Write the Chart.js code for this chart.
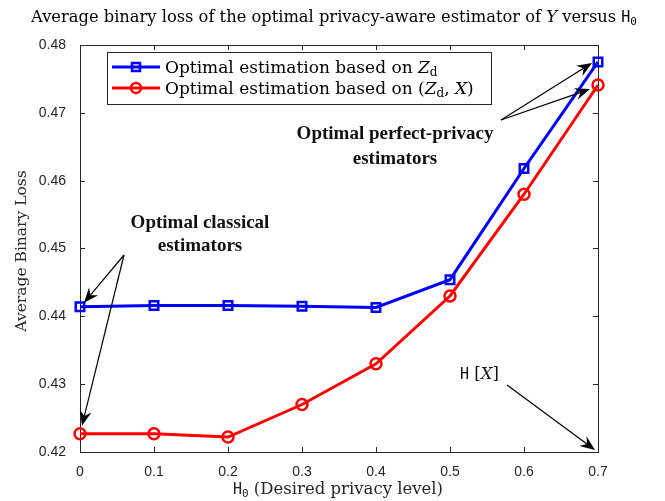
<!DOCTYPE html>
<html>
<head>
<meta charset="utf-8">
<script src="https://cdn.jsdelivr.net/npm/chart.js@4.4.0/dist/chart.umd.min.js"></script>
<style>
  html, body { margin: 0; padding: 0; background: #fff; }
  #wrap { width: 665px; height: 501px; position: relative; }
</style>
</head>
<body>
<div id="wrap"><canvas id="lossChart" width="665" height="501"></canvas></div>
<script>
// datos
const privacyLevels = [0, 0.1, 0.2, 0.3, 0.4, 0.5, 0.6, 0.7];
const lossZd = [0.4414, 0.4416, 0.4416, 0.4415, 0.4413, 0.4454, 0.4618, 0.4775];
const lossZdX = [0.4227, 0.4227, 0.4222, 0.4270, 0.4330, 0.4430, 0.4580, 0.4741];
const xTicks = [0, 0.1, 0.2, 0.3, 0.4, 0.5, 0.6, 0.7];
const yTicks = [0.42, 0.43, 0.44, 0.45, 0.46, 0.47, 0.48];

const SERIF = '"DejaVu Serif", "Liberation Serif", serif';
const BOLDSERIF = '"Liberation Serif", "Times New Roman", serif';
const MONO = '"DejaVu Sans Mono", "Liberation Mono", monospace';
const SANS = '"Liberation Sans", Arial, sans-serif';
const AXIS_COLOR = '#262626';

// dibuja un texto compuesto de trozos con fuentes distintas
function drawRuns(ctx, runs, x, y, align) {
    let total = 0;
    runs.forEach(r => { ctx.font = r.font; total += ctx.measureText(r.text).width; });
    let cx = align === 'center' ? x - total / 2 : x;
    ctx.textBaseline = 'alphabetic';
    ctx.textAlign = 'left';
    runs.forEach(r => {
        ctx.font = r.font;
        ctx.fillText(r.text, cx, y + (r.dy || 0));
        cx += ctx.measureText(r.text).width;
    });
}

function arrow(ctx, x0, y0, x1, y1) {
    const ang = Math.atan2(y1 - y0, x1 - x0);
    const len = 15, wid = 6;
    const bx = x1 - len * Math.cos(ang), by = y1 - len * Math.sin(ang);
    const nx = bx + 5 * Math.cos(ang), ny = by + 5 * Math.sin(ang);
    ctx.beginPath();
    ctx.moveTo(x0, y0);
    ctx.lineTo(nx, ny);
    ctx.stroke();
    ctx.beginPath();
    ctx.moveTo(x1, y1);
    ctx.lineTo(bx - wid * Math.sin(ang), by + wid * Math.cos(ang));
    ctx.lineTo(nx, ny);
    ctx.lineTo(bx + wid * Math.sin(ang), by - wid * Math.cos(ang));
    ctx.closePath();
    ctx.fill();
}

const matlabLook = {
    id: 'matlabLook',
    beforeDatasetsDraw(chart) {
        const { ctx, chartArea: a, scales } = chart;
        ctx.save();
        ctx.strokeStyle = AXIS_COLOR;
        ctx.lineWidth = 1;
        ctx.strokeRect(a.left + 0.5, a.top + 0.5, a.right - a.left, a.bottom - a.top);
        ctx.beginPath();
        xTicks.forEach(v => {
            const px = Math.round(scales.x.getPixelForValue(v)) + 0.5;
            ctx.moveTo(px, a.bottom); ctx.lineTo(px, a.bottom - 5);
            ctx.moveTo(px, a.top); ctx.lineTo(px, a.top + 5);
        });
        yTicks.forEach(v => {
            const py = Math.round(scales.y.getPixelForValue(v)) + 0.5;
            ctx.moveTo(a.left, py); ctx.lineTo(a.left + 5, py);
            ctx.moveTo(a.right, py); ctx.lineTo(a.right - 5, py);
        });
        ctx.stroke();
        ctx.restore();
    },
    afterDraw(chart) {
        const { ctx, scales } = chart;
        const X = v => scales.x.getPixelForValue(v);
        const Y = v => scales.y.getPixelForValue(v);
        ctx.save();
        ctx.fillStyle = '#000';

        // título
        drawRuns(ctx, [
            { text: 'Average binary loss of the optimal privacy-aware estimator of ', font: '16.3px ' + SERIF },
            { text: 'Y', font: 'italic 16.5px ' + SERIF },
            { text: ' versus ', font: '16.3px ' + SERIF },
            { text: 'H', font: '15px ' + MONO },
            { text: '0', font: '11px ' + MONO, dy: 3 }
        ], 334, 22, 'center');

        // etiqueta eje x
        ctx.fillStyle = AXIS_COLOR;
        drawRuns(ctx, [
            { text: 'H', font: '15px ' + MONO },
            { text: '0', font: '11px ' + MONO, dy: 3 },
            { text: ' (Desired privacy level)', font: '16.5px ' + SERIF }
        ], 338, 494, 'center');

        // etiqueta eje y
        ctx.save();
        ctx.translate(26, 251);
        ctx.rotate(-Math.PI / 2);
        ctx.font = '15.5px ' + SERIF;
        ctx.textAlign = 'center';
        ctx.fillText('Average Binary Loss', 0, 0);
        ctx.restore();

        // leyenda
        const lx = 107, ly = 52, lw = 384, lh = 52;
        ctx.fillStyle = '#fff';
        ctx.fillRect(lx, ly, lw, lh);
        ctx.strokeStyle = AXIS_COLOR;
        ctx.lineWidth = 1;
        ctx.strokeRect(lx + 0.5, ly + 0.5, lw, lh);
        const rows = [
            { color: '#0000ff', y: 67, runs: [
                { text: 'Optimal estimation based on ', font: '17px ' + SERIF },
                { text: 'Z', font: 'italic 17px ' + SERIF },
                { text: 'd', font: '12px ' + SERIF, dy: 3 }
            ], marker: 'rect' },
            { color: '#ff0000', y: 88, runs: [
                { text: 'Optimal estimation based on (', font: '17px ' + SERIF },
                { text: 'Z', font: 'italic 17px ' + SERIF },
                { text: 'd', font: '12px ' + SERIF, dy: 3 },
                { text: ', ', font: '17px ' + SERIF },
                { text: 'X', font: 'italic 17px ' + SERIF },
                { text: ')', font: '17px ' + SERIF }
            ], marker: 'circle' }
        ];
        rows.forEach(r => {
            ctx.strokeStyle = r.color;
            ctx.lineWidth = 3;
            ctx.beginPath();
            ctx.moveTo(112, r.y); ctx.lineTo(160, r.y);
            ctx.stroke();
            ctx.lineWidth = 2.5;
            if (r.marker === 'rect') {
                ctx.strokeRect(132, r.y - 4, 8, 8);
            } else {
                ctx.beginPath();
                ctx.arc(136, r.y, 5, 0, Math.PI * 2);
                ctx.stroke();
            }
            ctx.fillStyle = '#000';
            drawRuns(ctx, r.runs, 165, r.y + 6, 'left');
        });

        // anotaciones
        ctx.fillStyle = '#111';
        ctx.font = 'bold 19px ' + BOLDSERIF;
        ctx.textAlign = 'center';
        ctx.fillText('Optimal classical', 200, 228);
        ctx.fillText('estimators', 200, 251);
        ctx.fillText('Optimal perfect-privacy', 395, 139);
        ctx.fillText('estimators', 395, 164);

        drawRuns(ctx, [
            { text: 'H', font: '15px ' + MONO },
            { text: ' [', font: '16.5px ' + SERIF },
            { text: 'X', font: 'italic 16.5px ' + SERIF },
            { text: ']', font: '16.5px ' + SERIF }
        ], 460, 379, 'left');

        ctx.strokeStyle = '#000';
        ctx.fillStyle = '#000';
        ctx.lineWidth = 1.2;
        arrow(ctx, 124, 255, X(0) + 4, Y(lossZd[0]) - 4);
        arrow(ctx, 124, 255, X(0) + 2, Y(lossZdX[0]) - 8);
        arrow(ctx, 501, 120, X(0.7) - 6, Y(lossZd[7]) + 1);
        arrow(ctx, 501, 120, X(0.7) - 8, Y(lossZdX[7]) + 4);
        arrow(ctx, 507, 385, X(0.7) - 3, Y(0.42) - 2);
        ctx.restore();
    }
};

new Chart(document.getElementById('lossChart'), {
    type: 'line',
    data: {
        datasets: [
            {
                label: 'Optimal estimation based on Zd',
                data: privacyLevels.map((x, i) => ({ x: x, y: lossZd[i] })),
                borderColor: '#0000ff',
                borderWidth: 3,
                pointStyle: 'rect',
                pointRadius: 6,
                pointBorderWidth: 2.5,
                pointBorderColor: '#0000ff',
                pointBackgroundColor: 'rgba(0,0,0,0)',
                tension: 0
            },
            {
                label: 'Optimal estimation based on (Zd, X)',
                data: privacyLevels.map((x, i) => ({ x: x, y: lossZdX[i] })),
                borderColor: '#ff0000',
                borderWidth: 3,
                pointStyle: 'circle',
                pointRadius: 5.5,
                pointBorderWidth: 2.5,
                pointBorderColor: '#ff0000',
                pointBackgroundColor: 'rgba(0,0,0,0)',
                tension: 0
            }
        ]
    },
    options: {
        responsive: false,
        animation: false,
        clip: false,
        layout: { padding: { top: 45, right: 67, left: 0, bottom: 0 } },
        plugins: {
            legend: { display: false },
            title: { display: false },
            tooltip: { enabled: false }
        },
        scales: {
            x: {
                type: 'linear',
                min: 0,
                max: 0.7,
                afterFit: s => { s.height = 49; },
                afterBuildTicks: s => { s.ticks = xTicks.map(v => ({ value: v })); },
                grid: { display: false },
                border: { display: false },
                ticks: {
                    padding: 4,
                    color: AXIS_COLOR,
                    font: { family: SANS, size: 14 },
                    callback: v => String(Math.round(v * 10) / 10)
                }
            },
            y: {
                min: 0.42,
                max: 0.48,
                afterFit: s => { s.width = 80; },
                afterBuildTicks: s => { s.ticks = yTicks.map(v => ({ value: v })); },
                grid: { display: false },
                border: { display: false },
                ticks: {
                    padding: 6,
                    color: AXIS_COLOR,
                    font: { family: SANS, size: 14 },
                    callback: v => v.toFixed(2)
                }
            }
        }
    },
    plugins: [matlabLook]
});
</script>
</body>
</html>
